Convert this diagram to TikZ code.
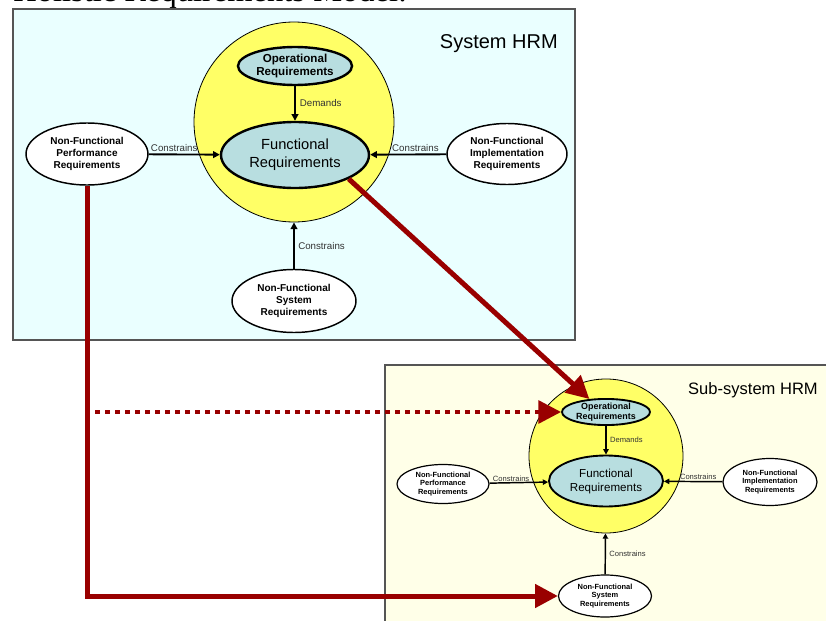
\documentclass[tikz,border=0pt]{standalone}
\usepackage{fontspec}
\setmainfont{Liberation Sans}
\newfontfamily\headserif{Liberation Serif}
\usepackage{xcolor}
\usetikzlibrary{shapes.geometric,arrows.meta}

\definecolor{sysfill}{HTML}{EAFFFF}
\definecolor{subfill}{HTML}{FFFFE8}
\definecolor{boxgray}{HTML}{555555}
\definecolor{hrmyellow}{HTML}{FFFF66}
\definecolor{reqblue}{HTML}{B8DEE0}
\definecolor{tracered}{HTML}{990000}
\definecolor{labelgray}{HTML}{333333}

\tikzset{
    hrmbox/.style={draw=boxgray, line width=0.8pt},
    hrmcircle/.style={circle, draw=black, fill=hrmyellow, line width=0.6pt, inner sep=0pt},
    corereq/.style={ellipse, draw=black, fill=reqblue, line width=1.8pt, inner sep=0pt, align=center},
    nfreq/.style={ellipse, draw=black, fill=white, line width=1.1pt, inner sep=0pt, align=center},
    relarrow/.style={-{Triangle[length=5pt,width=5pt]}, line width=1.4pt},
    rellabel/.style={text=labelgray, inner sep=1pt},
    tracearrow/.style={draw=tracered, line width=3.75pt, -{Triangle[length=17pt,width=17pt]}},
    tracedots/.style={draw=tracered, line width=3pt, dash pattern=on 3.5pt off 4pt, -{Triangle[length=17pt,width=17pt]}}
}

\begin{document}
\begin{tikzpicture}[x=0.75pt, y=-0.75pt]
    \useasboundingbox (0,0) rectangle (826,621);

    % Title, cut off at the top
    \node[anchor=base west, inner sep=0pt, font=\headserif\fontsize{24.4}{29}\selectfont] (title) at (13,2) {Holistic Requirements Model:};

    % Draw the two model panels
    \draw[hrmbox, fill=sysfill] (13,9) rectangle (575,340);
    \draw[hrmbox, fill=subfill] (385,365) rectangle (840,640);
    \node[anchor=east, inner sep=0pt, font=\fontsize{15}{18}\selectfont] (syshead) at (558,44) {System HRM};
    \node[anchor=east, inner sep=0pt, font=\fontsize{12.4}{15}\selectfont] (subhead) at (818,390) {Sub-system HRM};

    % System HRM
    \node[hrmcircle, minimum size=150pt] (cir) at (294,122) {};
    \node[corereq, minimum width=85.5pt, minimum height=28.5pt, font=\bfseries\fontsize{8.7}{9.8}\selectfont] (op) at (295,66) {Operational\\Requirements};
    \node[corereq, minimum width=111pt, minimum height=49.5pt, font=\fontsize{11}{13.5}\selectfont] (fr) at (295,155) {Functional\\Requirements};
    \node[nfreq, minimum width=91.5pt, minimum height=46.5pt, font=\bfseries\fontsize{7.5}{8.8}\selectfont] (nfp) at (87,154) {Non-Functional\\Performance\\Requirements};
    \node[nfreq, minimum width=90pt, minimum height=45.75pt, font=\bfseries\fontsize{7.5}{8.8}\selectfont] (nfi) at (507,154) {Non-Functional\\Implementation\\Requirements};
    \node[nfreq, minimum width=93pt, minimum height=47.25pt, font=\bfseries\fontsize{7.5}{8.8}\selectfont] (nfs) at (294,301) {Non-Functional\\System\\Requirements};

    \begin{scope}[every node/.append style={font=\fontsize{7.3}{8.5}\selectfont}]
        \draw[relarrow] (op) -- (fr) node[rellabel, midway, anchor=west, xshift=2pt] {Demands};
        \draw[relarrow] (nfp) -- (fr) node[rellabel, pos=0, anchor=south west] {Constrains};
        \draw[relarrow] (nfi) -- (fr) node[rellabel, pos=0, anchor=south east, xshift=-4pt] {Constrains};
        \draw[relarrow] (nfs) -- (cir) node[rellabel, midway, anchor=west, xshift=1.5pt] {Constrains};
    \end{scope}

    % Sub-system HRM
    \node[hrmcircle, minimum size=115.5pt] (scir) at (606,456) {};
    \node[corereq, line width=1.4pt, minimum width=66pt, minimum height=19.5pt, font=\bfseries\fontsize{6.7}{7.6}\selectfont] (sop) at (606,412) {Operational\\Requirements};
    \node[corereq, line width=1.4pt, minimum width=85.5pt, minimum height=38.25pt, font=\fontsize{8.7}{10.5}\selectfont] (sfr) at (606,481) {Functional\\Requirements};
    \node[nfreq, line width=0.9pt, minimum width=69pt, minimum height=29.25pt, font=\bfseries\fontsize{5.6}{6.6}\selectfont] (snfp) at (443,484) {Non-Functional\\Performance\\Requirements};
    \node[nfreq, line width=0.9pt, minimum width=70.5pt, minimum height=35.25pt, font=\bfseries\fontsize{5.6}{6.6}\selectfont] (snfi) at (770,482) {Non-Functional\\Implementation\\Requirements};
    \node[nfreq, line width=0.9pt, minimum width=69.75pt, minimum height=31.5pt, font=\bfseries\fontsize{5.6}{6.6}\selectfont] (snfs) at (605,596) {Non-Functional\\System\\Requirements};

    \begin{scope}[every node/.append style={font=\fontsize{5.7}{6.7}\selectfont}, relarrow/.append style={line width=1.1pt, -{Triangle[length=4pt,width=4pt]}}]
        \draw[relarrow] (sop) -- (sfr) node[rellabel, midway, anchor=west, xshift=1.5pt] {Demands};
        \draw[relarrow] (snfp) -- (sfr) node[rellabel, pos=0, anchor=south west, xshift=1pt] {Constrains};
        \draw[relarrow] (snfi) -- (sfr) node[rellabel, pos=0, anchor=south east, xshift=-3pt] {Constrains};
        \draw[relarrow] (snfs) -- (scir) node[rellabel, midway, anchor=west, xshift=1.5pt] {Constrains};
    \end{scope}

    % Trace arrows from system to sub-system
    \coordinate (dotstart) at (95,412);
    \draw[tracearrow] (fr.-24) -- (sop.142);
    \draw[tracedots] (dotstart) -- (sop.west);
    \draw[tracearrow] (nfp.south) |- (snfs.west);
\end{tikzpicture}
\end{document}
